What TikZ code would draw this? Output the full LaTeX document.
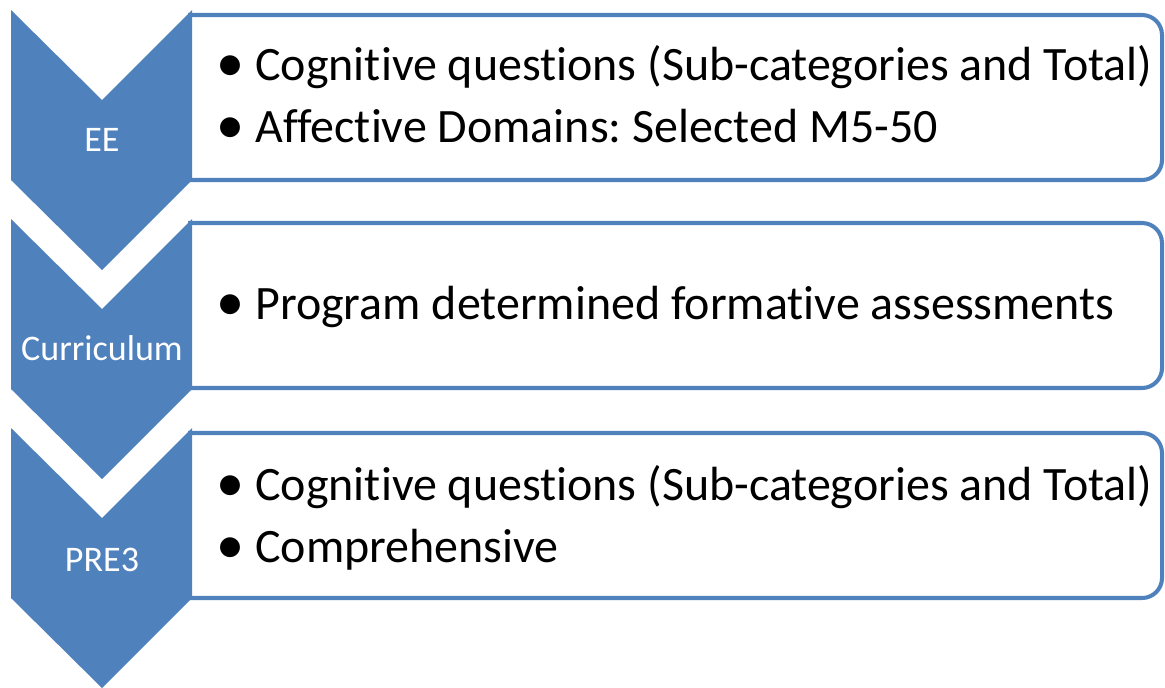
\documentclass[tikz,border=0pt]{standalone}
\usepackage{fontspec}
\setmainfont[Ligatures=NoCommon]{Carlito}
\frenchspacing
\definecolor{officeblue}{HTML}{4F81BD}
\tikzset{
  chevron/.style={fill=officeblue, draw=none},
  itembox/.style={draw=officeblue, line width=2.3pt, rounded corners=0.4cm},
  stage/.style={anchor=base, text=white, font=\fontsize{20.5}{24}\selectfont, inner sep=0pt},
  item/.style={anchor=base west, font=\fontsize{27.3}{33}\selectfont, inner sep=0pt},
  dot/.style={anchor=base, font=\fontsize{32}{36}\selectfont, inner sep=0pt}
}
\begin{document}
\begin{tikzpicture}[x=0.02cm, y=-0.02cm]
        \useasboundingbox (0,0) rectangle (1165,687);

        % boxes on the right (left side hidden behind the chevrons)
        \draw[itembox] (188,15) -- (1162,15) -- (1162,180) -- (188,180);
        \draw[itembox] (188,223) -- (1162,223) -- (1162,388) -- (188,388);
        \draw[itembox] (188,433) -- (1162,433) -- (1162,598) -- (188,598);

        % chevrons on the left
        \fill[chevron] (11,10) -- (102,100) -- (192,10) -- (192,180) -- (102,270) -- (11,180) -- cycle;
        \fill[chevron] (11,219) -- (102,309) -- (192,219) -- (192,389) -- (102,479) -- (11,389) -- cycle;
        \fill[chevron] (11,428) -- (102,518) -- (192,428) -- (192,598) -- (102,688) -- (11,598) -- cycle;

        \node[stage](ee) at (102,151){EE};
        \node[stage](curriculum) at (102,360){Curriculum};
        \node[stage](pre) at (102,571){PRE3};

        \node[dot](dotA) at (230,81){\textbullet};
        \node[item](cogA) at (255,80){Cognitive questions (Sub-categories and Total)};
        \node[dot](dotB) at (230,143){\textbullet};
        \node[item](affect) at (255,142){Affective Domains: Selected M5-50};

        \node[dot](dotC) at (230,320){\textbullet};
        \node[item](program) at (255,319){Program determined formative assessments};

        \node[dot](dotD) at (230,501){\textbullet};
        \node[item](cogB) at (255,500){Cognitive questions (Sub-categories and Total)};
        \node[dot](dotE) at (230,563){\textbullet};
        \node[item](compr) at (255,562){Comprehensive};
    \end{tikzpicture}
\end{document}
